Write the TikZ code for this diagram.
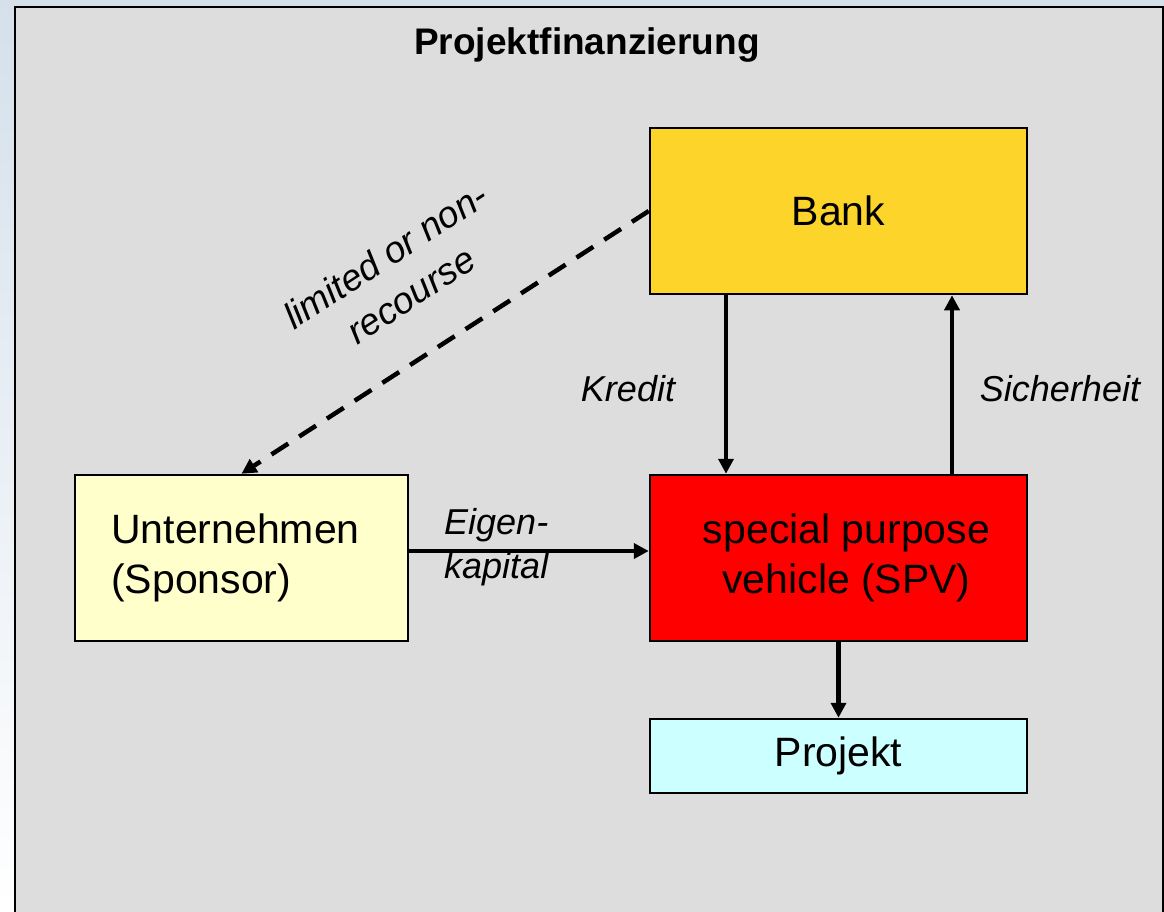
\documentclass[tikz,border=0pt]{standalone}
\usepackage{fontspec}
\setmainfont{Liberation Sans}
\usetikzlibrary{arrows.meta}
\definecolor{bgblue}{RGB}{213,224,235}
\definecolor{panelgray}{RGB}{221,221,221}
\definecolor{bankgold}{RGB}{253,212,42}
\definecolor{sponsoryellow}{RGB}{255,255,204}
\definecolor{projcyan}{RGB}{204,255,255}
\tikzset{
  boxnode/.style={draw=black, line width=2.5pt, minimum width=377pt, inner sep=0pt,
    font=\fontsize{41}{50}\selectfont, align=center},
  flow/.style={line width=4.5pt, -{Triangle[length=15pt,width=15pt]}},
  dflow/.style={line width=4.5pt, dash pattern=on 20pt off 13pt, -{Triangle[length=15pt,width=15pt]}},
  lbl/.style={font=\fontsize{36}{44}\selectfont\itshape, inner sep=0pt},
}
\begin{document}
\begin{tikzpicture}[x=1pt,y=-1pt]
\useasboundingbox (0,0) rectangle (1164,911);
\shade[top color=bgblue, bottom color=white] (0,0) rectangle (1164,911);
\filldraw[fill=panelgray, draw=black, line width=2.5pt] (15,7) rectangle (1163,940);

\node[font=\fontsize{37}{44}\selectfont\bfseries, inner sep=0pt] (title) at (587,45) {Projektfinanzierung};

\node[boxnode, fill=bankgold, minimum height=166pt] (Bank) at (838.5,211) {Bank};
\node[boxnode, fill=sponsoryellow, minimum width=333pt, minimum height=166pt, align=left] (Sponsor) at (241.5,558) {Unternehmen\hspace*{12pt}\\(Sponsor)};
\node[boxnode, fill=red, minimum height=166pt] (SPV) at (838.5,558) {\hspace*{16pt}special purpose\\\hspace*{16pt}vehicle (SPV)};
\node[boxnode, fill=projcyan, minimum height=74pt] (Projekt) at (838.5,756) {Projekt};

\coordinate (kx) at (726,0);
\coordinate (sx) at (952,0);
\draw[flow] (Bank.south -| kx) -- (SPV.north -| kx);
\draw[flow] (SPV.north -| sx) -- (Bank.south -| sx);
\draw[flow] ([yshift=7pt]Sponsor.east) -- ([yshift=7pt]SPV.west);
\draw[flow] (SPV.south) -- (Projekt.north);
\draw[dflow] (Bank.west) -- (Sponsor.north);

\node[lbl] (kredit) at (628,389) {Kredit};
\node[lbl] (sicher) at (1060,389) {Sicherheit};
\node[lbl, anchor=west, align=left] (eigen) at (444,547) {Eigen-\\kapital};
\node[lbl, rotate=33, align=center, font=\fontsize{37}{47}\selectfont\itshape] (recourse) at (398,275) {limited or non-\\recourse};
\end{tikzpicture}
\end{document}
